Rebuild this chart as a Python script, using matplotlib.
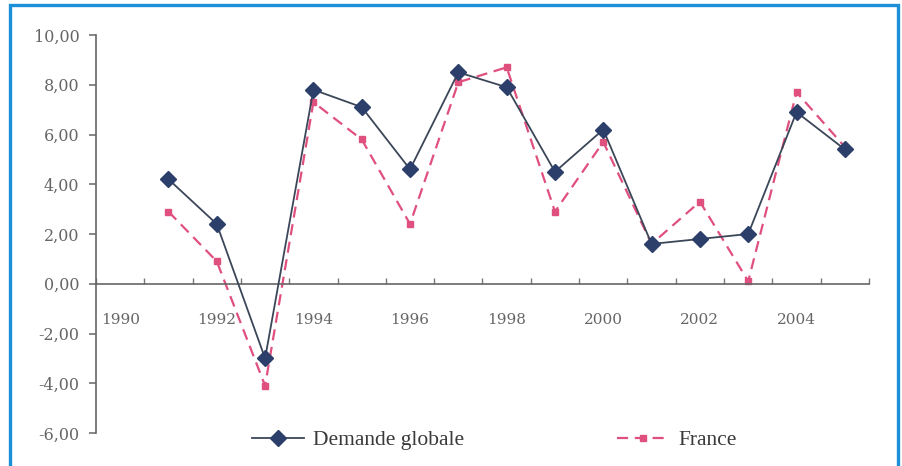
import matplotlib
matplotlib.use("Agg")
import matplotlib.pyplot as plt
from matplotlib.patches import Rectangle
import numpy as np

years = [1990, 1991, 1992, 1993, 1994, 1995, 1996, 1997, 1998, 1999,
         2000, 2001, 2002, 2003, 2004, 2005]
demande_globale = [None, 4.2, 2.4, -3.0, 7.8, 7.1, 4.6, 8.5, 7.9, 4.5,
                   6.2, 1.6, 1.8, 2.0, 6.9, 5.4]
france = [None, 2.9, 0.9, -4.1, 7.3, 5.8, 2.4, 8.1, 8.7, 2.9,
          5.7, 1.6, 3.3, 0.1, 7.7, 5.5]
y_ticks = [-6, -4, -2, 0, 2, 4, 6, 8, 10]
x_label_years = [1990, 1992, 1994, 1996, 1998, 2000, 2002, 2004]

W, H = 903, 466
fig = plt.figure(figsize=(W / 100, H / 100), dpi=100)
fig.patch.set_facecolor("white")

ax = fig.add_axes([96 / W, 1 - 433 / H, (869 - 96) / W, (433 - 35) / H])
ax.set_facecolor("white")

idx = np.arange(len(years))
dg = np.array([np.nan if v is None else v for v in demande_globale], dtype=float)
fr = np.array([np.nan if v is None else v for v in france], dtype=float)

l_fr, = ax.plot(idx, fr, color="#e0507e", lw=1.6, ls=(0, (5, 3)),
                marker="s", markersize=4.5, markerfacecolor="#e0507e",
                markeredgecolor="#e0507e", label="France", zorder=2)
l_dg, = ax.plot(idx, dg, color="#3b4658", lw=1.3, marker="D", markersize=8,
                markerfacecolor="#2c3f6a", markeredgecolor="#2c3f6a",
                label="Demande globale", zorder=3)

ax.set_xlim(-0.5, len(years) - 0.5)
ax.set_ylim(-6, 10)

for s in ["top", "right"]:
    ax.spines[s].set_visible(False)
ax.spines["bottom"].set_position(("data", 0))
for s in ["left", "bottom"]:
    ax.spines[s].set_color("#666666")
    ax.spines[s].set_linewidth(1.2)

ax.set_yticks(y_ticks)
ax.set_yticklabels([f"{v:.2f}".replace(".", ",") for v in y_ticks],
                   family="DejaVu Serif", fontsize=11.5, color="#666666")
ax.tick_params(axis="y", direction="out", length=5, width=1.1, color="#666666", pad=7)

label_pos = [years.index(y) for y in x_label_years]
ax.set_xticks(label_pos)
ax.set_xticklabels([str(y) for y in x_label_years], family="DejaVu Serif",
                   fontsize=11, color="#666666")
ax.set_xticks(np.arange(len(years) + 1) - 0.5, minor=True)
ax.tick_params(axis="x", which="major", length=0, pad=21)
ax.tick_params(axis="x", which="minor", direction="in", length=4, width=1.0,
               color="#777777")

fig.legend(handles=[l_dg, l_fr], loc="center", ncol=2,
           bbox_to_anchor=(494.5 / W, 1 - 440 / H), frameon=False,
           prop={"family": "Liberation Serif", "size": 15.5},
           labelcolor="#3a3a3a", handlelength=2.4, handletextpad=0.45,
           columnspacing=7.1)

fig.patches.append(Rectangle((10 / W, -0.1), (898 - 10) / W, 1.1 - 5 / H,
                             transform=fig.transFigure, fill=False,
                             edgecolor="#1b8fd8", lw=2.4, clip_on=False))

fig.savefig("out.png", dpi=100)
